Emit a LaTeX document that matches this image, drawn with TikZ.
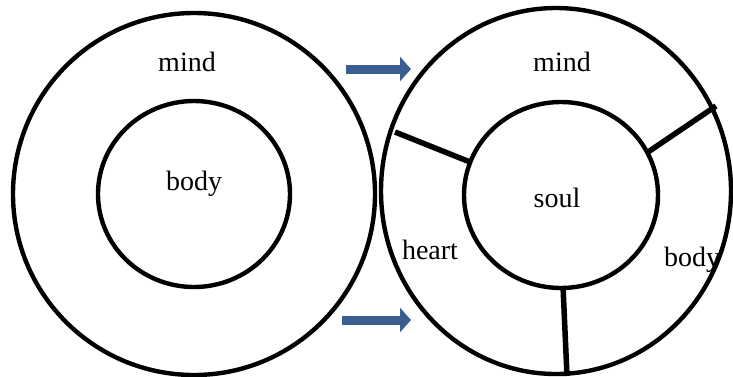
\documentclass[tikz,border=0pt]{standalone}
\usepackage{fontspec}
\setmainfont{Liberation Serif}
\usetikzlibrary{arrows.meta}
\definecolor{arrowblue}{RGB}{59,94,145}
\begin{document}
\begin{tikzpicture}[x=1pt,y=-1pt,
  ring/.style={draw=black,line width=4.4pt},
  spoke/.style={draw=black,line width=5.5pt},
  lbl/.style={font=\fontsize{28}{32}\selectfont,inner sep=0pt},
  bigarrow/.style={draw=arrowblue,line width=9pt,-{Triangle[length=11pt,width=24pt]}}]
\useasboundingbox (0,0) rectangle (733,376);
% left diagram
\draw[ring] (194,194) ellipse [x radius=181, y radius=181];
\draw[ring] (194,194) ellipse [x radius=96, y radius=93];
\node[lbl] (lmind) at (187,62) {mind};
\node[lbl] (lbody) at (194,184) {body};
% right diagram
\draw[ring] (556,191) ellipse [x radius=175, y radius=183];
\draw[ring] (561,195) ellipse [x radius=97, y radius=93];
\coordinate (s1a) at (395,132); \coordinate (s1b) at (470,162);
\coordinate (s2a) at (648,152); \coordinate (s2b) at (716,106);
\coordinate (s3a) at (563,286); \coordinate (s3b) at (567,376);
\draw[spoke] (s1a) -- (s1b);
\draw[spoke] (s2a) -- (s2b);
\draw[spoke] (s3a) -- (s3b);
\node[lbl] (rmind) at (562,62) {mind};
\node[lbl] (soul) at (557,198) {soul};
\node[lbl] (heart) at (430,250) {heart};
\node[lbl] (rbody) at (692,260) {body};
% arrows
\coordinate (a1s) at (346,69); \coordinate (a1e) at (411,69);
\coordinate (a2s) at (342,320); \coordinate (a2e) at (411,320);
\draw[bigarrow] (a1s) -- (a1e);
\draw[bigarrow] (a2s) -- (a2e);
\end{tikzpicture}
\end{document}
